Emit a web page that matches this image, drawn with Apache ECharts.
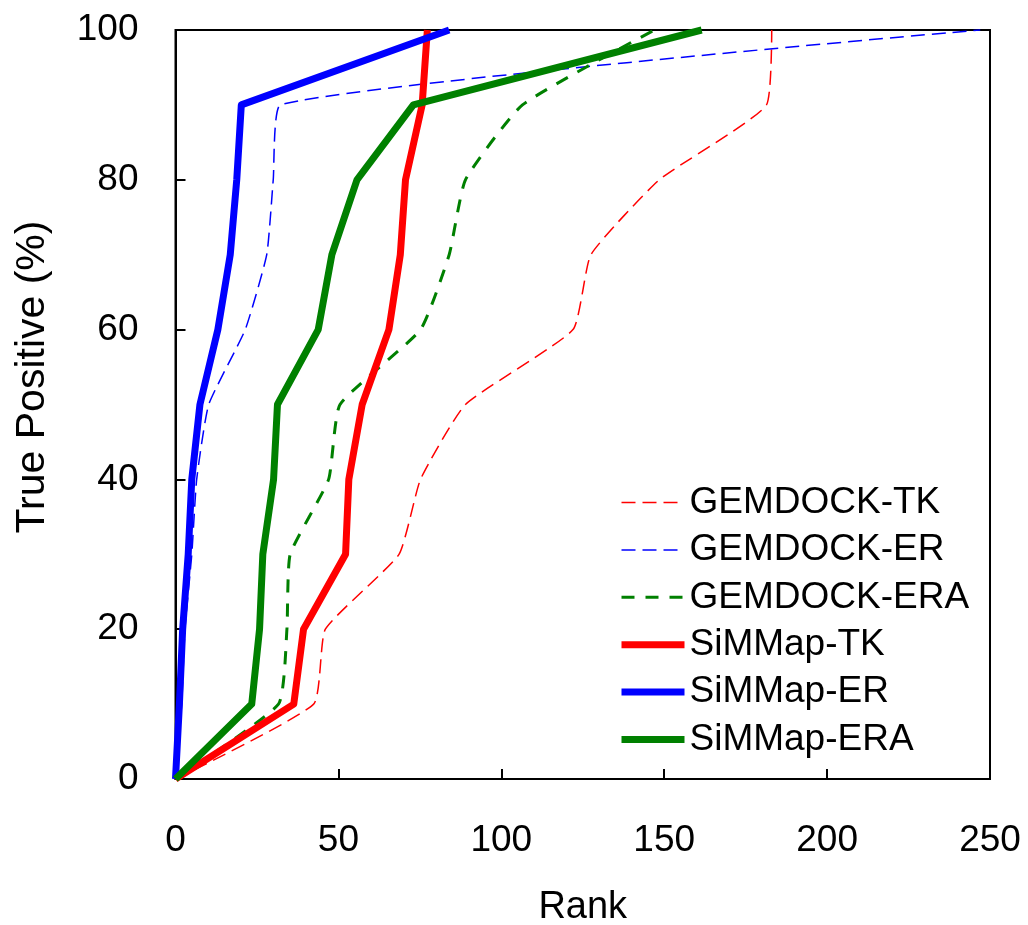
<!DOCTYPE html>
<html>
<head>
<meta charset="utf-8">
<title>True Positive vs Rank</title>
<script src="https://cdn.jsdelivr.net/npm/echarts@6/dist/echarts.min.js"></script>
<style>
  html, body { margin: 0; padding: 0; background: #fff; }
  #chart { width: 1028px; height: 925px; }
</style>
</head>
<body>
<div id="chart"></div>
<script>
// true positive levels (%), y values of every series
var tpLevels = [0, 10, 20, 30, 40, 50, 60, 70, 80, 90, 100];

// rank (x) reached at each level
var gemdockTK  = [0, 42.4, 46, 68.6, 75.2, 89, 122, 127.5, 148.5, 181.4, 183];
var gemdockER  = [0, 1.9, 2.9, 5, 6.5, 10.2, 21.4, 28, 30, 32.2, 247];
var gemdockERA = [0, 31.6, 34.2, 35.2, 47, 50.5, 75.2, 84, 89, 106.5, 147];
var simmapTK   = [0, 36.3, 39.3, 52.2, 53.2, 57.3, 65.5, 69, 70.6, 75.7, 77.3];
var simmapER   = [0, 1.2, 2.2, 3.9, 5, 7.5, 13, 16.8, 18.8, 20.2, 84];
var simmapERA  = [0, 23.4, 25.8, 26.8, 30.1, 31.3, 43.8, 48, 55.7, 73, 161.5];

var xTicks = { min: 0, max: 250, interval: 50 };
var yTicks = { min: 0, max: 100, interval: 20 };

var FONT = 'Liberation Sans, Arial, sans-serif';

function pairs(xs) {
  return xs.map(function (x, i) { return [x, tpLevels[i]]; });
}

var styles = {
  'GEMDOCK-TK':  { color: '#ff0000', width: 1.5, type: [14, 7], smooth: 0.15 },
  'GEMDOCK-ER':  { color: '#0000ff', width: 1.5, type: [14, 7], smooth: 0.15 },
  'GEMDOCK-ERA': { color: '#008000', width: 3, type: [13, 11], smooth: 0.15 },
  'SiMMap-TK':   { color: '#ff0000', width: 7, type: 'solid' },
  'SiMMap-ER':   { color: '#0000ff', width: 7, type: 'solid' },
  'SiMMap-ERA':  { color: '#008000', width: 7, type: 'solid' }
};

function line(name, xs) {
  var s = styles[name];
  return {
    name: name,
    type: 'line',
    data: pairs(xs),
    symbol: 'none',
    smooth: s.smooth || false,
    clip: false,
    lineStyle: { color: s.color, width: s.width, type: s.type, join: 'round' },
    itemStyle: { color: s.color }
  };
}

var legendNames = ['GEMDOCK-TK', 'GEMDOCK-ER', 'GEMDOCK-ERA', 'SiMMap-TK', 'SiMMap-ER', 'SiMMap-ERA'];

var chart = echarts.init(document.getElementById('chart'));

chart.setOption({
  animation: false,
  backgroundColor: '#fff',
  grid: {
    left: 175.5, right: 38, top: 30, bottom: 146,
    outerBoundsMode: 'none',
    containLabel: false,
    show: true, borderColor: '#000', borderWidth: 2
  },
  xAxis: {
    type: 'value',
    min: xTicks.min, max: xTicks.max, interval: xTicks.interval,
    name: 'Rank', nameLocation: 'middle', nameGap: 110,
    nameTextStyle: { fontSize: 38, fontFamily: FONT, color: '#000' },
    axisLine: { lineStyle: { color: '#000', width: 2 } },
    axisTick: { inside: true, length: 10, lineStyle: { color: '#000', width: 2 } },
    axisLabel: { margin: 43, fontSize: 37, fontFamily: FONT, color: '#000' },
    splitLine: { show: false }
  },
  yAxis: {
    type: 'value',
    min: yTicks.min, max: yTicks.max, interval: yTicks.interval,
    axisLine: { show: true, lineStyle: { color: '#000', width: 2 } },
    axisTick: { show: true, inside: true, length: 10, lineStyle: { color: '#000', width: 2 } },
    axisLabel: { margin: 37, fontSize: 37, fontFamily: FONT, color: '#000' },
    splitLine: { show: false }
  },
  graphic: [{
    type: 'text',
    x: 33, y: 377,
    rotation: Math.PI / 2,
    style: {
      text: 'True Positive (%)',
      font: '41px ' + FONT,
      fill: '#000',
      align: 'center',
      verticalAlign: 'middle'
    }
  }],
  legend: {
    orient: 'vertical',
    left: 613, top: 479,
    itemWidth: 63, itemHeight: 14, itemGap: 10.4,
    itemStyle: { opacity: 0 },
    textStyle: { fontSize: 37, lineHeight: 37, fontFamily: FONT, color: '#000' },
    data: legendNames.map(function (n) {
      var s = styles[n];
      return { name: n, lineStyle: { color: s.color, width: s.width, type: s.type } };
    })
  },
  series: [
    line('GEMDOCK-TK', gemdockTK),
    line('GEMDOCK-ER', gemdockER),
    line('GEMDOCK-ERA', gemdockERA),
    line('SiMMap-TK', simmapTK),
    line('SiMMap-ER', simmapER),
    line('SiMMap-ERA', simmapERA)
  ]
});
</script>
</body>
</html>
